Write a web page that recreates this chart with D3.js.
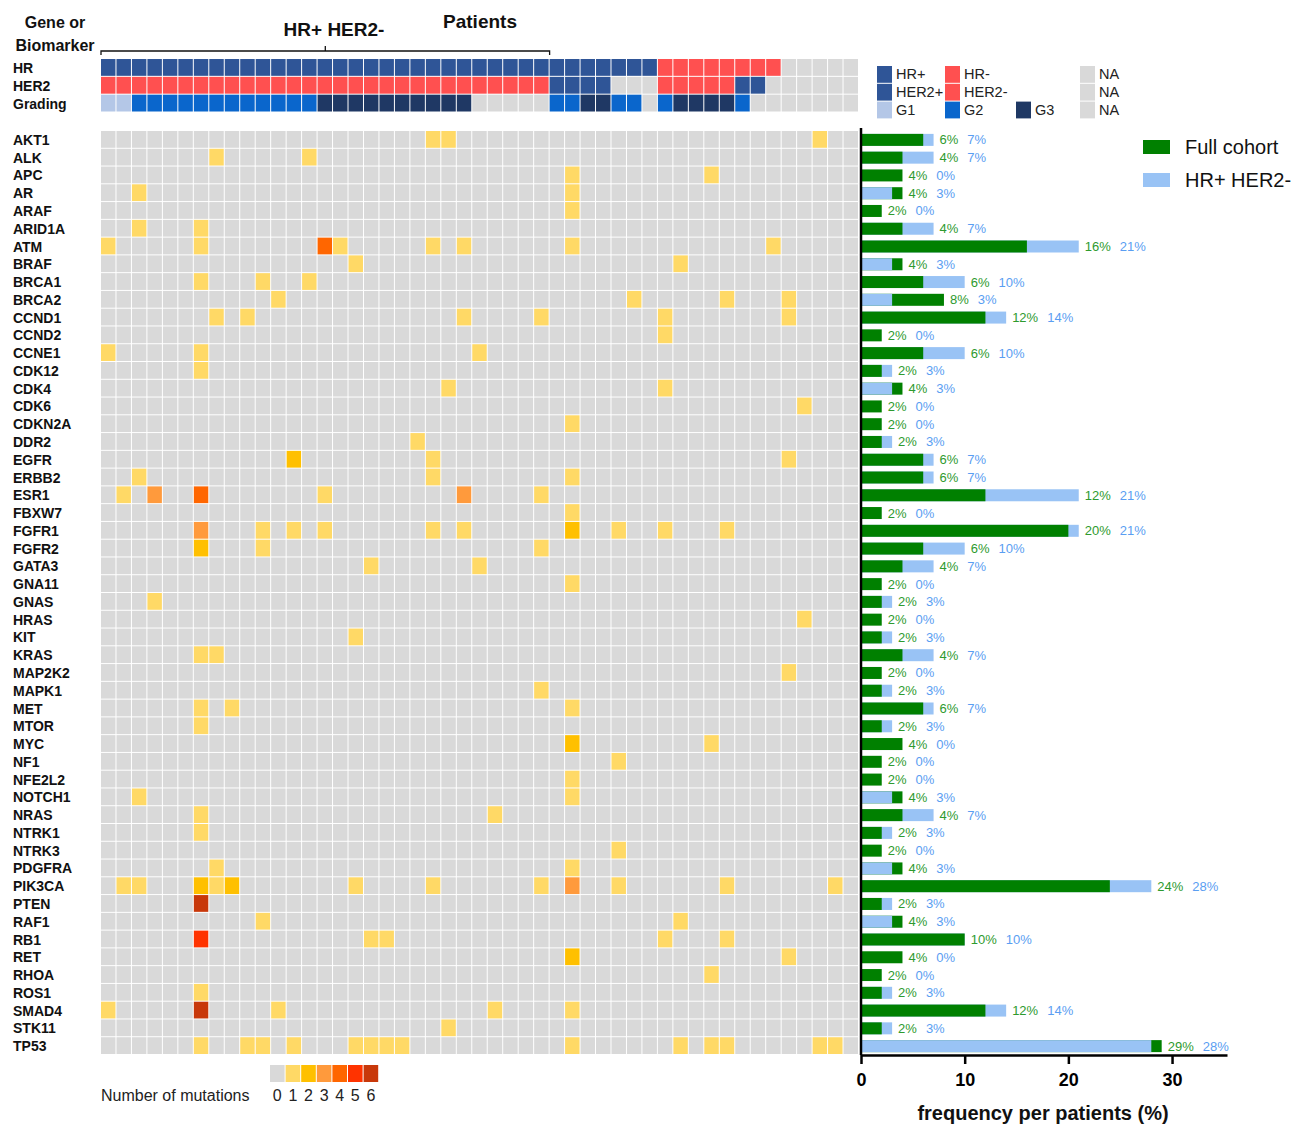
<!DOCTYPE html>
<html><head><meta charset="utf-8">
<script src="https://cdn.jsdelivr.net/npm/d3@7"></script>
<style>
body{margin:0;background:#fff}
svg{display:block}
text{font-family:"Liberation Sans",Arial,sans-serif}
</style>
</head><body>
<svg id="chart" width="1293" height="1124"></svg>
<script>
// ---------------- DATA ----------------
const genes = ["AKT1","ALK","APC","AR","ARAF","ARID1A","ATM","BRAF","BRCA1","BRCA2","CCND1","CCND2","CCNE1","CDK12","CDK4","CDK6","CDKN2A","DDR2","EGFR","ERBB2","ESR1","FBXW7","FGFR1","FGFR2","GATA3","GNA11","GNAS","HRAS","KIT","KRAS","MAP2K2","MAPK1","MET","MTOR","MYC","NF1","NFE2L2","NOTCH1","NRAS","NTRK1","NTRK3","PDGFRA","PIK3CA","PTEN","RAF1","RB1","RET","RHOA","ROS1","SMAD4","STK11","TP53"];

const patients = d3.range(49);

// header rows, one code per patient (P = positive, N = negative, X = NA; 1/2/3 = grade)
const hrRow      = "PPPPPPPPPP PPPPPPPPPP PPPPPPPPPP PPPPPPNNNN NNNNXXXXX".replace(/ /g,"").split("");
const her2Row    = "NNNNNNNNNN NNNNNNNNNN NNNNNNNNNP PPPXXXNNNN NPPXXXXXX".replace(/ /g,"").split("");
const gradingRow = "1122222222 2222333333 3333XXXXX2 23322X2333 32XXXXXXX".replace(/ /g,"").split("");

// mutations per gene: [patient index, number of mutations]
const mutations = [
  [[21,1],[22,1],[46,1]],                                   // AKT1
  [[7,1],[13,1]],                                           // ALK
  [[30,1],[39,1]],                                          // APC
  [[2,1],[30,1]],                                           // AR
  [[30,1]],                                                 // ARAF
  [[2,1],[6,1]],                                            // ARID1A
  [[0,1],[6,1],[14,4],[15,1],[21,1],[23,1],[30,1],[43,1]],  // ATM
  [[16,1],[37,1]],                                          // BRAF
  [[6,1],[10,1],[13,1]],                                    // BRCA1
  [[11,1],[34,1],[40,1],[44,1]],                            // BRCA2
  [[7,1],[9,1],[23,1],[28,1],[36,1],[44,1]],                // CCND1
  [[36,1]],                                                 // CCND2
  [[0,1],[6,1],[24,1]],                                     // CCNE1
  [[6,1]],                                                  // CDK12
  [[22,1],[36,1]],                                          // CDK4
  [[45,1]],                                                 // CDK6
  [[30,1]],                                                 // CDKN2A
  [[20,1]],                                                 // DDR2
  [[12,2],[21,1],[44,1]],                                   // EGFR
  [[2,1],[21,1],[30,1]],                                    // ERBB2
  [[1,1],[3,3],[6,4],[14,1],[23,3],[28,1]],                 // ESR1
  [[30,1]],                                                 // FBXW7
  [[6,3],[10,1],[12,1],[14,1],[21,1],[23,1],[30,2],[33,1],[36,1],[40,1]], // FGFR1
  [[6,2],[10,1],[28,1]],                                    // FGFR2
  [[17,1],[24,1]],                                          // GATA3
  [[30,1]],                                                 // GNA11
  [[3,1]],                                                  // GNAS
  [[45,1]],                                                 // HRAS
  [[16,1]],                                                 // KIT
  [[6,1],[7,1]],                                            // KRAS
  [[44,1]],                                                 // MAP2K2
  [[28,1]],                                                 // MAPK1
  [[6,1],[8,1],[30,1]],                                     // MET
  [[6,1]],                                                  // MTOR
  [[30,2],[39,1]],                                          // MYC
  [[33,1]],                                                 // NF1
  [[30,1]],                                                 // NFE2L2
  [[2,1],[30,1]],                                           // NOTCH1
  [[6,1],[25,1]],                                           // NRAS
  [[6,1]],                                                  // NTRK1
  [[33,1]],                                                 // NTRK3
  [[7,1],[30,1]],                                           // PDGFRA
  [[1,1],[2,1],[6,2],[7,1],[8,2],[16,1],[21,1],[28,1],[30,3],[33,1],[40,1],[47,1]], // PIK3CA
  [[6,6]],                                                  // PTEN
  [[10,1],[37,1]],                                          // RAF1
  [[6,5],[17,1],[18,1],[36,1],[40,1]],                      // RB1
  [[30,2],[44,1]],                                          // RET
  [[39,1]],                                                 // RHOA
  [[6,1]],                                                  // ROS1
  [[0,1],[6,6],[11,1],[25,1],[30,1]],                       // SMAD4
  [[22,1]],                                                 // STK11
  [[6,1],[9,1],[10,1],[12,1],[16,1],[17,1],[18,1],[19,1],[30,1],[37,1],[39,1],[40,1],[46,1],[47,1]] // TP53
];

// frequency per patients (%)
const fullCohort = [6,4,4,4,2,4,16,4,6,8,12,2,6,2,4,2,2,2,6,6,12,2,20,6,4,2,2,2,2,4,2,2,6,2,4,2,2,4,4,2,2,4,24,2,4,10,4,2,2,12,2,29];
const hrHer2Neg  = [7,7,0,3,0,7,21,3,10,3,14,0,10,3,3,0,0,3,7,7,21,0,21,10,7,0,3,0,3,7,0,3,7,3,0,0,0,3,7,3,0,3,28,3,3,10,0,0,3,14,3,28];

const mutationLevels = [0,1,2,3,4,5,6];
const axisTicks = [0,10,20,30];

// ---------------- STYLE ----------------
const mutColor = d3.scaleOrdinal().domain(mutationLevels)
  .range(["#D9D9D9","#FFD966","#FFC000","#FF9A3C","#FF6600","#FF3300","#C8380A"]);
const hdrColor = {
  HR:      {P:"#2F5597", N:"#FF5050", X:"#D9D9D9"},
  HER2:    {P:"#2F5597", N:"#FF5050", X:"#D9D9D9"},
  Grading: {"1":"#B4C7E7","2":"#0A66CC","3":"#1F3864", X:"#D9D9D9"}
};
const GREEN = "#008000", BLUE = "#99C3F5", GREEN_T = "#2E9A2E", BLUE_T = "#5A9EF2";

const svg = d3.select("#chart");

// ---------------- SCALES ----------------
const x  = d3.scaleBand().domain(patients).range([101, 859]);
const y  = d3.scaleBand().domain(genes).range([131, 1055]);
const yh = d3.scaleBand().domain(["HR","HER2","Grading"]).range([59, 112.5]);
const xb = d3.scaleLinear().domain([0, 35.3]).range([861, 1227]);

// ---------------- TITLES ----------------
svg.append("text").attr("x",55).attr("y",22).attr("text-anchor","middle").attr("dominant-baseline","central")
  .attr("font-size",16).attr("font-weight","bold").attr("fill","#111").text("Gene or");
svg.append("text").attr("x",55).attr("y",45).attr("text-anchor","middle").attr("dominant-baseline","central")
  .attr("font-size",16).attr("font-weight","bold").attr("fill","#111").text("Biomarker");
svg.append("text").attr("x",334).attr("y",29).attr("text-anchor","middle").attr("dominant-baseline","central")
  .attr("font-size",19).attr("font-weight","bold").attr("fill","#111").text("HR+ HER2-");
svg.append("text").attr("x",480).attr("y",21).attr("text-anchor","middle").attr("dominant-baseline","central")
  .attr("font-size",19).attr("font-weight","bold").attr("fill","#111").text("Patients");

// bracket over HR+ HER2- patients
const bx0 = x(0), bx1 = x(28) + x.bandwidth(), bmid = (bx0 + bx1) / 2;
svg.append("path").attr("d",`M${bx0},55V51H${bx1}V55M${bmid},51V46`)
  .attr("fill","none").attr("stroke","#111").attr("stroke-width",1.3);

// ---------------- HEADER ROWS ----------------
const headerData = [["HR",hrRow],["HER2",her2Row],["Grading",gradingRow]];
headerData.forEach(([key,row]) => {
  svg.append("text").attr("x",13).attr("y",yh(key)+yh.bandwidth()/2).attr("dominant-baseline","central")
    .attr("font-size",14).attr("font-weight","bold").attr("fill","#111").text(key);
  svg.append("g").selectAll("rect").data(row).join("rect")
    .attr("x",(d,i)=>x(i)).attr("y",yh(key))
    .attr("width",x.bandwidth()-1).attr("height",yh.bandwidth()-1)
    .attr("fill",d=>hdrColor[key][d]);
});

// ---------------- HEATMAP ----------------
const cells = [];
genes.forEach((g,gi) => {
  const m = new Map(mutations[gi]);
  patients.forEach(p => cells.push({g, p, v: m.get(p) || 0}));
});
svg.append("g").selectAll("rect").data(cells).join("rect")
  .attr("x",d=>x(d.p)).attr("y",d=>y(d.g))
  .attr("width",x.bandwidth()-1).attr("height",y.bandwidth()-1)
  .attr("fill",d=>mutColor(d.v));

svg.append("g").selectAll("text").data(genes).join("text")
  .attr("x",13).attr("y",g=>y(g)+y.bandwidth()/2).attr("dominant-baseline","central")
  .attr("font-size",14).attr("font-weight","bold").attr("fill","#111").text(g=>g);

// ---------------- BARS ----------------
const barH = 12;
const barG = svg.append("g");
genes.forEach((g,i) => {
  // larger bar drawn first; on a tie the full-cohort (green) bar ends up on top
  const items = [{v:hrHer2Neg[i], c:BLUE},{v:fullCohort[i], c:GREEN}].sort((a,b)=>b.v-a.v);
  barG.selectAll(null).data(items).enter().append("rect")
    .attr("x",xb(0)).attr("y",y(g)+(y.bandwidth()-barH)/2)
    .attr("width",d=>xb(d.v)-xb(0)).attr("height",barH).attr("fill",d=>d.c);
  const cy = y(g)+y.bandwidth()/2;
  const lx = xb(Math.max(fullCohort[i],hrHer2Neg[i])) + 6;
  const t1 = barG.append("text").attr("x",lx).attr("y",cy).attr("dominant-baseline","central")
    .attr("font-size",13).attr("fill",GREEN_T).text(fullCohort[i]+"%");
  const w = t1.node().getComputedTextLength();
  barG.append("text").attr("x",lx+w+9).attr("y",cy).attr("dominant-baseline","central")
    .attr("font-size",13).attr("fill",BLUE_T).text(hrHer2Neg[i]+"%");
});

// axes
svg.append("line").attr("x1",xb(0)).attr("x2",xb(0)).attr("y1",128).attr("y2",1055)
  .attr("stroke","#000").attr("stroke-width",2.5);
const ax = svg.append("g").attr("transform","translate(0,1055)")
  .call(d3.axisBottom(xb).tickValues(axisTicks).tickSize(9).tickSizeOuter(0).tickPadding(9));
ax.select(".domain").attr("stroke","#000").attr("stroke-width",2.5);
ax.selectAll(".tick line").attr("stroke","#000").attr("stroke-width",2.5);
ax.selectAll(".tick text").attr("font-size",18).attr("font-weight","bold").attr("fill","#000")
  .attr("font-family","'Liberation Sans',Arial,sans-serif");
svg.append("text").attr("x",1043).attr("y",1113).attr("text-anchor","middle").attr("dominant-baseline","central")
  .attr("font-size",20).attr("font-weight","bold").attr("fill","#111").text("frequency per patients (%)");

// bar legend
[["Full cohort",GREEN,147],["HR+ HER2-",BLUE,180]].forEach(([t,c,cy]) => {
  svg.append("rect").attr("x",1143).attr("y",cy-7).attr("width",27).attr("height",14).attr("fill",c);
  svg.append("text").attr("x",1185).attr("y",cy).attr("dominant-baseline","central")
    .attr("font-size",20).attr("fill","#111").text(t);
});

// header legend
const hdrLegend = [
  {x:877, r:0, c:"#2F5597", t:"HR+"},   {x:945, r:0, c:"#FF5050", t:"HR-"},   {x:1080, r:0, c:"#D9D9D9", t:"NA"},
  {x:877, r:1, c:"#2F5597", t:"HER2+"}, {x:945, r:1, c:"#FF5050", t:"HER2-"}, {x:1080, r:1, c:"#D9D9D9", t:"NA"},
  {x:877, r:2, c:"#B4C7E7", t:"G1"},    {x:945, r:2, c:"#0A66CC", t:"G2"},    {x:1016, r:2, c:"#1F3864", t:"G3"}, {x:1080, r:2, c:"#D9D9D9", t:"NA"}
];
const hl = svg.append("g").selectAll("g").data(hdrLegend).join("g");
hl.append("rect").attr("x",d=>d.x).attr("y",d=>66+d.r*17.8).attr("width",15).attr("height",16.8).attr("fill",d=>d.c);
hl.append("text").attr("x",d=>d.x+19).attr("y",d=>74+d.r*17.8).attr("dominant-baseline","central")
  .attr("font-size",14.5).attr("fill","#222").text(d=>d.t);

// mutation count legend
svg.append("text").attr("x",101).attr("y",1095).attr("dominant-baseline","central")
  .attr("font-size",16).attr("fill","#222").text("Number of mutations");
const lx0 = 270, lw = 15.6;
svg.append("g").selectAll("rect").data(mutationLevels).join("rect")
  .attr("x",(d,i)=>lx0+i*lw).attr("y",1065).attr("width",lw-1).attr("height",17).attr("fill",d=>mutColor(d));
svg.append("g").selectAll("text").data(mutationLevels).join("text")
  .attr("x",(d,i)=>lx0+i*lw+lw/2-0.5).attr("y",1095).attr("text-anchor","middle").attr("dominant-baseline","central")
  .attr("font-size",16).attr("fill","#222").text(d=>d);
</script>
</body></html>
